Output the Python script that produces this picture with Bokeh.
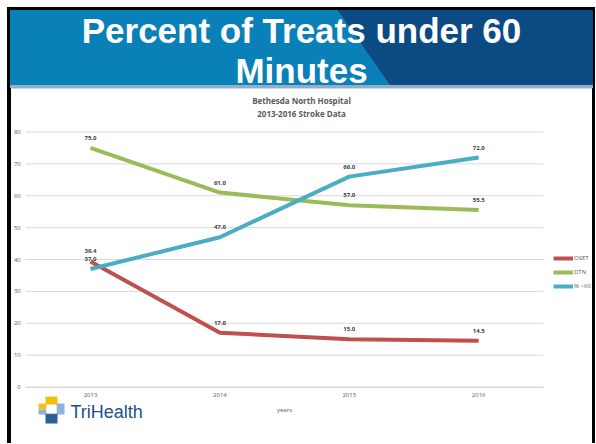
from bokeh.plotting import figure
from bokeh.models import (Range1d, Legend, LegendItem, FixedTicker, LinearAxis)
from bokeh.core.properties import value
from bokeh.embed import file_html
from bokeh.resources import INLINE

# ---------------- data ----------------
years = ["2013", "2014", "2015", "2016"]
oset = [39.4, 17.0, 15.0, 14.5]
dtn = [75.0, 61.0, 57.0, 55.5]
pct_under_60 = [37.0, 47.0, 66.0, 72.0]
series_names = ["OSET", "DTN", "% <60"]
series_colors = ["#c0504d", "#9bbb59", "#4bacc6"]
y_ticks = [0, 10, 20, 30, 40, 50, 60, 70, 80]
title_lines = ["Percent of Treats under 60", "Minutes"]
subtitle_lines = ["Bethesda North Hospital", "2013-2016 Stroke Data"]
x_label = "years"
logo_text = "TriHealth"

FONT = "Open Sans"
TXT = "#595959"

# ---------------- page geometry (pixels -> data) ----------------
PW, PH = 595, 443
X0_PX, X_STEP = 90.0, 129.4      # pixel of first category, pixels per category
Y0_PX, Y_STEP = 386.5, 3.1875    # pixel of value 0, pixels per unit


def X(px):
    return (px - X0_PX) / X_STEP


def Y(py):
    return (Y0_PX - py) / Y_STEP


xs = list(range(len(years)))
x_lo, x_hi = xs[0] - 0.5, xs[-1] + 0.5

p = figure(width=PW, height=PH, x_range=Range1d(X(0), X(PW)),
           y_range=Range1d(Y(PH), Y(0)), toolbar_location=None,
           output_backend="svg", min_border=0,
           x_axis_location=None, y_axis_location=None)
p.grid.visible = False
p.outline_line_color = None
p.background_fill_color = "white"
p.border_fill_color = "white"

# ---------------- slide frame and banner ----------------
p.quad(left=[X(7)], right=[X(595)], top=[Y(7)], bottom=[Y(10)], color="black")
p.quad(left=[X(7)], right=[X(10)], top=[Y(7)], bottom=[Y(PH)], color="black")
p.quad(left=[X(592)], right=[X(595)], top=[Y(7)], bottom=[Y(PH)], color="black")
p.quad(left=[X(10)], right=[X(592)], top=[Y(10)], bottom=[Y(86)], color="#0b4a82")
p.patch([X(10), X(337), X(390), X(10)], [Y(10), Y(10), Y(86), Y(86)], color="#0a80b8")
p.quad(left=[X(10)], right=[X(592)], top=[Y(85)], bottom=[Y(87.5)], color="#8fb0c8")
p.text(x=[X(301), X(301)], y=[Y(30), Y(70)], text=title_lines,
       text_color="white", text_font=value("Liberation Sans"),
       text_font_style="bold", text_font_size="35px",
       text_align="center", text_baseline="middle")

# subtitle
p.text(x=[X(301), X(301)], y=[Y(100), Y(113)], text=subtitle_lines,
       text_align="center", text_baseline="middle", text_font_size="8px",
       text_font=value(FONT), text_font_style="bold", text_color="#595959")

# ---------------- grid + axes ----------------
p.segment(x0=[x_lo] * len(y_ticks), x1=[x_hi] * len(y_ticks), y0=y_ticks, y1=y_ticks,
          line_color="#d9d9d9", line_width=1)

yaxis = LinearAxis(ticker=FixedTicker(ticks=y_ticks), fixed_location=x_lo,
                   bounds=(y_ticks[0], y_ticks[-1]))
yaxis.axis_line_color = None
yaxis.major_tick_line_color = None
yaxis.major_tick_out = 0
yaxis.major_tick_in = 0
yaxis.minor_tick_line_color = None
yaxis.minor_tick_out = 0
yaxis.minor_tick_in = 0
yaxis.major_label_text_font_size = "6px"
yaxis.major_label_text_color = TXT
yaxis.major_label_text_font = FONT
yaxis.major_label_standoff = 5
p.add_layout(yaxis, "left")

xaxis = LinearAxis(ticker=FixedTicker(ticks=xs), fixed_location=0,
                   bounds=(x_lo, x_hi),
                   major_label_overrides={i: y for i, y in zip(xs, years)})
xaxis.axis_line_color = "#d9d9d9"
xaxis.major_tick_line_color = None
xaxis.major_tick_out = 0
xaxis.major_tick_in = 0
xaxis.minor_tick_line_color = None
xaxis.minor_tick_out = 0
xaxis.minor_tick_in = 0
xaxis.major_label_text_font_size = "6px"
xaxis.major_label_text_color = TXT
xaxis.major_label_text_font = FONT
xaxis.major_label_standoff = 6
xaxis.axis_label = x_label
xaxis.axis_label_text_font_size = "6px"
xaxis.axis_label_text_font_style = "normal"
xaxis.axis_label_text_color = TXT
xaxis.axis_label_text_font = FONT
xaxis.axis_label_standoff = 5
p.add_layout(xaxis, "below")

# ---------------- series ----------------
renderers = []
for vals, col in zip([oset, dtn, pct_under_60], series_colors):
    r = p.line(x=xs, y=vals, line_color=col, line_width=4)
    renderers.append(r)
for vals in [oset, dtn, pct_under_60]:
    p.text(x=xs, y=vals, text=[f"{v:.1f}" for v in vals], y_offset=-10,
           text_align="center", text_baseline="middle", text_font_size="6px",
           text_font=value(FONT), text_font_style="bold", text_color="#404040")

legend = Legend(items=[LegendItem(label=n, renderers=[r]) for n, r in zip(series_names, renderers)],
                location=(553, PH - 292), padding=0, margin=0, spacing=2,
                glyph_height=12, glyph_width=20, label_standoff=1,
                label_text_font_size="6px", label_text_color=TXT,
                label_text_font=FONT, label_height=12,
                border_line_color=None, background_fill_alpha=0)
p.add_layout(legend)

# ---------------- logo ----------------
logo_boxes = [(45, 57, 396, 405, "#f2c10f"), (38, 46, 403, 409, "#f2c10f"),
              (38, 46, 409, 414, "#8db4d6"), (56, 64, 403, 414, "#8db4d6"),
              (45, 57, 413, 423, "#2a5f98"), (46, 56, 404, 413, "#ffffff")]
for l, r_, t, b, c in logo_boxes:
    p.quad(left=[X(l)], right=[X(r_)], top=[Y(t)], bottom=[Y(b)],
           fill_color=c, line_color=None)
p.text(x=[X(70)], y=[Y(411)], text=[logo_text], text_align="left",
       text_baseline="middle", text_font_size="18px",
       text_font=value("Liberation Sans"), text_color="#1b4f8f")

open("out.html", "w").write(file_html(p, INLINE))
